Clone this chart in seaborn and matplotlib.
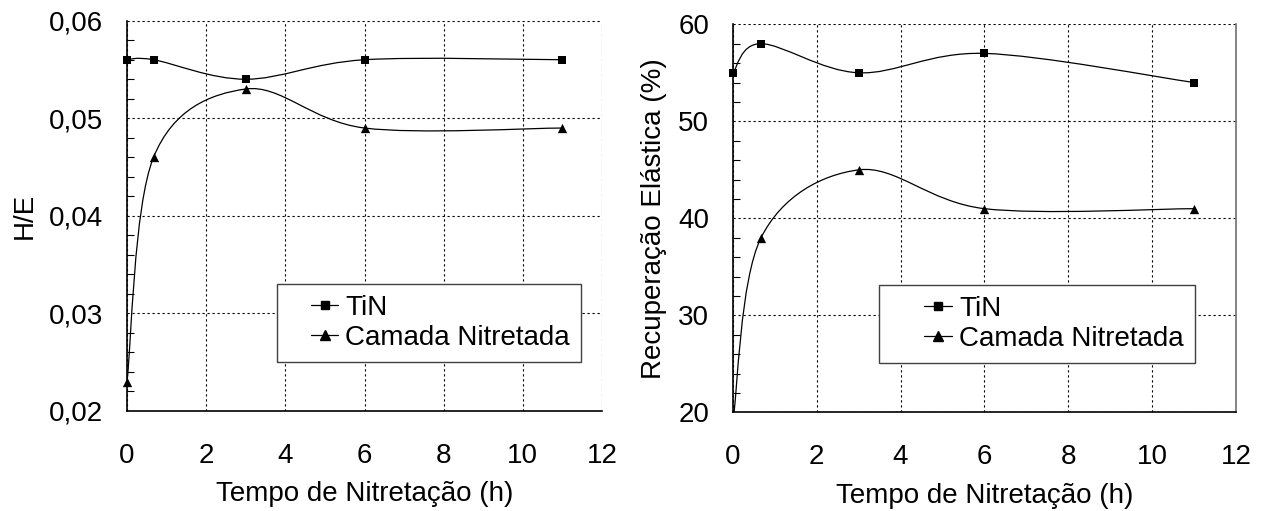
import numpy as np
import seaborn as sns
import matplotlib.pyplot as plt
from matplotlib.path import Path
from matplotlib.patches import PathPatch, Rectangle
from matplotlib.lines import Line2D
from matplotlib.legend_handler import HandlerLine2D
from matplotlib.ticker import MultipleLocator, FuncFormatter

# dados
tempo = [0, 0.67, 3, 6, 11]
he_tin = [0.056, 0.056, 0.054, 0.056, 0.056]
he_camada = [0.023, 0.046, 0.053, 0.049, 0.049]
rec_tin = [55, 58, 55, 57, 54]
rec_camada = [19, 38, 45, 41, 41]

sns.set_theme(style="white")
plt.rcParams.update({
    "font.family": ["Liberation Sans", "DejaVu Sans"],
    "font.size": 20,
    "axes.edgecolor": "black",
    "axes.linewidth": 1.2,
    "xtick.color": "black",
    "ytick.color": "black",
    "text.color": "black",
    "axes.labelcolor": "black",
})


class HandlerRecuado(HandlerLine2D):
    # desenha a linha da legenda so na parte direita da caixa do handle
    def __init__(self, frac, **kw):
        super().__init__(**kw)
        self.frac = frac

    def create_artists(self, legend, orig_handle, xdescent, ydescent,
                       width, height, fontsize, trans):
        w = width * self.frac
        return super().create_artists(legend, orig_handle,
                                      xdescent - (width - w), ydescent,
                                      w, height, fontsize, trans)


def curva_suave(ax, x, y):
    # linha suavizada tipo Excel: bezier cubica entre os pontos
    pts = np.column_stack([x, y]).astype(float)
    n = len(pts)
    verts = [pts[0]]
    codes = [Path.MOVETO]
    for i in range(n - 1):
        p_ant = pts[i - 1] if i > 0 else pts[i]
        p_prox = pts[i + 2] if i + 2 < n else pts[i + 1]
        c1 = pts[i] + (pts[i + 1] - p_ant) / 6
        c2 = pts[i + 1] - (p_prox - pts[i]) / 6
        verts += [c1, c2, pts[i + 1]]
        codes += [Path.CURVE4] * 3
    ax.add_patch(PathPatch(Path(verts, codes), facecolor="none",
                           edgecolor="black", lw=0.9, zorder=3))


def marcadores(ax, x, y, marker, s):
    sns.scatterplot(x=x, y=y, marker=marker, s=s, color="black",
                    linewidth=0, ax=ax, zorder=4)
    coll = ax.collections[-1]
    # deixa aparecer o marcador sobre os eixos, mas corta o que fica abaixo
    coll.set_clip_path(Rectangle((-0.05, 0), 1.1, 1.1, transform=ax.transAxes))


def formatar(ax, ymin, ymax, ymaj, ymin_step, fmt, legx, legy, hlen, borda_dir):
    ax.set_xlim(0, 12)
    ax.set_ylim(ymin, ymax)
    ax.xaxis.set_major_locator(MultipleLocator(2))
    ax.yaxis.set_major_locator(MultipleLocator(ymaj))
    ax.yaxis.set_minor_locator(MultipleLocator(ymin_step))
    ax.yaxis.set_major_formatter(FuncFormatter(fmt))
    ax.tick_params(axis="both", which="major", direction="out", length=6,
                   width=1, labelsize=20)
    ax.tick_params(axis="y", which="major", pad=11)
    ax.tick_params(axis="x", which="major", pad=17)
    ax.tick_params(axis="y", which="minor", direction="in", length=5,
                   width=0.8, left=True)
    ax.grid(True, which="major", color="black", linestyle=(0, (2, 2.5)),
            linewidth=0.8)
    ax.set_axisbelow(True)
    ax.spines["top"].set_visible(False)
    if borda_dir:
        ax.spines["right"].set_color("#707070")
        ax.spines["right"].set_linewidth(1.2)
    else:
        ax.spines["right"].set_visible(False)
    ax.set_xlabel("Tempo de Nitretação (h)", fontsize=20, labelpad=9)

    h_tin = Line2D([], [], color="black", lw=0.9, marker="s", markersize=6)
    h_cam = Line2D([], [], color="black", lw=0.9, marker="^", markersize=7)
    frac = 1.0 / hlen
    leg = ax.legend([h_tin, h_cam], ["TiN", "Camada Nitretada"],
                    loc="lower right", bbox_to_anchor=(legx, legy),
                    fontsize=20, frameon=True, fancybox=False, framealpha=1,
                    edgecolor="#404040", borderpad=0.4, handlelength=hlen,
                    handletextpad=0.25, labelspacing=0.15, borderaxespad=0,
                    handler_map={h_tin: HandlerRecuado(frac),
                                 h_cam: HandlerRecuado(frac)})
    leg.get_frame().set_linewidth(1)


fig = plt.figure(figsize=(12.65, 5.11), dpi=100)
ax1 = fig.add_axes([0.1004, 0.1957, 0.3755, 0.7638])
ax2 = fig.add_axes([0.5794, 0.1928, 0.3976, 0.7597])

# painel esquerdo: H/E
curva_suave(ax1, tempo, he_tin)
curva_suave(ax1, tempo, he_camada)
marcadores(ax1, tempo, he_tin, "s", 36)
marcadores(ax1, tempo, he_camada, "^", 45)
formatar(ax1, 0.02, 0.06, 0.01, 0.002,
         lambda v, p: f"{v:.2f}".replace(".", ","), 0.956, 0.1255, 1.8, False)
ax1.set_ylabel("H/E", fontsize=20, labelpad=8)

# painel direito: recuperação elástica
curva_suave(ax2, tempo, rec_tin)
curva_suave(ax2, tempo, rec_camada)
marcadores(ax2, tempo, rec_tin, "s", 36)
marcadores(ax2, tempo, rec_camada, "^", 45)
formatar(ax2, 20, 60, 10, 2, lambda v, p: f"{v:.0f}", 0.918, 0.1275, 2.23, True)
ax2.set_ylabel("Recuperação Elástica (%)", fontsize=20, labelpad=8)

fig.savefig("out.png", dpi=100)
